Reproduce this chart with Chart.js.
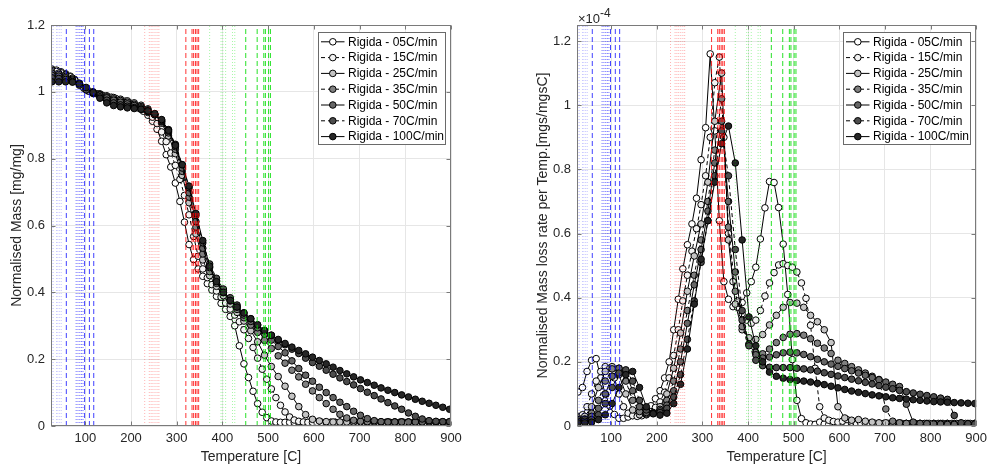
<!DOCTYPE html>
<html>
<head>
<meta charset="utf-8">
<title>Rigida - TGA / DTG</title>
<script src="https://cdn.jsdelivr.net/npm/chart.js@4.4.1/dist/chart.umd.min.js"></script>
<style>
  html, body { margin: 0; padding: 0; background: #fff; }
  #wrap { position: relative; width: 992px; height: 466px; }
  canvas { position: absolute; top: 0; }
  #mass { left: 0; }
  #dtg { left: 496px; }
</style>
</head>
<body>
<div id="wrap">
  <canvas id="mass" width="496" height="466"></canvas>
  <canvas id="dtg" width="496" height="466"></canvas>
</div>
<script>
const FONT = "'Liberation Sans', Arial, Helvetica, sans-serif";
const INK = '#262626';
const FRAME = '#7a7a7a';
const GRID = '#e6e6e6';

const rateLabels = ['Rigida - 05C/min', 'Rigida - 15C/min', 'Rigida - 25C/min', 'Rigida - 35C/min',
  'Rigida - 50C/min', 'Rigida - 70C/min', 'Rigida - 100C/min'];
const faceColors = ['#ffffff', '#f2f2f2', '#c4c4c4', '#808080', '#666666', '#4d4d4d', '#262626'];
const dashed = [false, true, false, true, false, true, false];

// sampling temperatures: 05 and 15 C/min use the fine grid, the rest the coarse one
const tFine = [27, 37, 47, 57, 67, 77, 87, 97,
  107, 117, 127, 137, 147, 157, 167, 177, 187, 197,
  207, 217, 227, 237, 247, 257, 267, 277, 287, 297,
  307, 317, 327, 337, 347, 357, 367, 377, 387, 397,
  407, 417, 427, 437, 447, 457, 467, 477, 487, 497,
  507, 517, 527, 537, 547, 557, 567, 577, 587, 597,
  607, 617, 627, 637, 647, 657, 667, 677, 687, 697,
  707, 717, 727, 737, 747, 757, 767, 777, 787, 797,
  807, 817, 827, 837, 847, 857, 867, 877, 887, 897];
const tCoarse = [27, 42, 57, 72, 87, 102, 117, 132, 147, 162,
  177, 192, 207, 222, 237, 252, 267, 282, 297, 312,
  327, 342, 357, 372, 387, 402, 417, 432, 447, 462,
  477, 492, 507, 522, 537, 552, 567, 582, 597, 612,
  627, 642, 657, 672, 687, 702, 717, 732, 747, 762,
  777, 792, 807, 822, 837, 852, 867, 882, 897];

// normalised mass [mg/mg]
const mass05 = [1.068, 1.065, 1.060, 1.054, 1.047, 1.037, 1.024, 1.011,
  1.002, 0.997, 0.993, 0.989, 0.986, 0.982, 0.978, 0.974, 0.969, 0.964,
  0.958, 0.951, 0.942, 0.930, 0.912, 0.888, 0.852, 0.812, 0.775, 0.727,
  0.672, 0.610, 0.543, 0.498, 0.470, 0.448, 0.426, 0.407, 0.388, 0.367,
  0.349, 0.328, 0.300, 0.240, 0.186, 0.145, 0.104, 0.067, 0.041, 0.025,
  0.015, 0.012, 0.011, 0.011, 0.011, 0.011, 0.011, 0.011, 0.011, 0.011,
  0.011, 0.011, 0.011, 0.011, 0.011, 0.011, 0.011, 0.011, 0.011, 0.011,
  0.010, 0.010, 0.010, 0.010, 0.010, 0.010, 0.010, 0.010, 0.010, 0.010,
  0.010, 0.010, 0.010, 0.010, 0.010, 0.010, 0.010, 0.010, 0.010, 0.010];
const mass15 = [1.064, 1.061, 1.057, 1.052, 1.045, 1.035, 1.023, 1.011,
  1.003, 0.998, 0.994, 0.990, 0.987, 0.984, 0.980, 0.976, 0.972, 0.967,
  0.962, 0.956, 0.948, 0.938, 0.924, 0.905, 0.880, 0.851, 0.817, 0.780,
  0.738, 0.690, 0.632, 0.567, 0.508, 0.470, 0.444, 0.423, 0.404, 0.386,
  0.368, 0.350, 0.332, 0.312, 0.288, 0.262, 0.235, 0.203, 0.170, 0.140,
  0.111, 0.085, 0.062, 0.042, 0.027, 0.018, 0.014, 0.012, 0.011, 0.011,
  0.011, 0.011, 0.011, 0.011, 0.011, 0.011, 0.011, 0.011, 0.011, 0.011,
  0.011, 0.011, 0.011, 0.011, 0.011, 0.011, 0.011, 0.011, 0.011, 0.011,
  0.010, 0.010, 0.010, 0.010, 0.010, 0.010, 0.010, 0.010, 0.010, 0.010];
const mass25 = [1.060, 1.056, 1.050, 1.041, 1.026, 1.010, 1.000, 0.994, 0.988, 0.983,
  0.978, 0.973, 0.967, 0.960, 0.949, 0.932, 0.906, 0.868, 0.815, 0.750,
  0.668, 0.575, 0.497, 0.450, 0.418, 0.390, 0.365, 0.340, 0.314, 0.285,
  0.252, 0.212, 0.178, 0.148, 0.119, 0.089, 0.058, 0.034, 0.020, 0.015,
  0.013, 0.012, 0.012, 0.012, 0.012, 0.012, 0.012, 0.012, 0.012, 0.012,
  0.012, 0.012, 0.012, 0.012, 0.012, 0.012, 0.012, 0.012, 0.012];
const mass35 = [1.056, 1.052, 1.046, 1.038, 1.024, 1.008, 0.999, 0.992, 0.985, 0.979,
  0.974, 0.969, 0.963, 0.956, 0.946, 0.932, 0.910, 0.877, 0.828, 0.762,
  0.685, 0.595, 0.515, 0.462, 0.427, 0.399, 0.374, 0.349, 0.324, 0.302,
  0.280, 0.256, 0.232, 0.210, 0.188, 0.167, 0.147, 0.125, 0.105, 0.085,
  0.067, 0.050, 0.035, 0.024, 0.017, 0.014, 0.013, 0.012, 0.012, 0.012,
  0.012, 0.012, 0.012, 0.012, 0.012, 0.012, 0.012, 0.012, 0.012];
const mass50 = [1.050, 1.047, 1.042, 1.035, 1.022, 1.007, 0.998, 0.990, 0.982, 0.975,
  0.969, 0.964, 0.959, 0.952, 0.943, 0.931, 0.912, 0.882, 0.836, 0.772,
  0.698, 0.612, 0.532, 0.474, 0.435, 0.405, 0.380, 0.356, 0.332, 0.313,
  0.294, 0.275, 0.257, 0.238, 0.219, 0.195, 0.172, 0.152, 0.134, 0.116,
  0.100, 0.085, 0.071, 0.058, 0.044, 0.032, 0.022, 0.016, 0.013, 0.012,
  0.012, 0.012, 0.012, 0.012, 0.012, 0.012, 0.012, 0.012, 0.012];
const mass70 = [1.042, 1.040, 1.037, 1.031, 1.020, 1.006, 0.995, 0.985, 0.975, 0.967,
  0.961, 0.957, 0.953, 0.948, 0.941, 0.932, 0.915, 0.887, 0.843, 0.782,
  0.713, 0.630, 0.548, 0.485, 0.442, 0.410, 0.384, 0.362, 0.339, 0.321,
  0.302, 0.285, 0.271, 0.256, 0.243, 0.230, 0.217, 0.203, 0.190, 0.179,
  0.167, 0.155, 0.144, 0.133, 0.123, 0.112, 0.101, 0.091, 0.081, 0.070,
  0.060, 0.050, 0.039, 0.029, 0.021, 0.016, 0.014, 0.013, 0.013];
const mass100 = [1.030, 1.030, 1.030, 1.029, 1.024, 1.013, 0.998, 0.981, 0.967, 0.959,
  0.955, 0.952, 0.950, 0.948, 0.943, 0.935, 0.917, 0.885, 0.840, 0.782,
  0.718, 0.636, 0.555, 0.478, 0.432, 0.400, 0.376, 0.356, 0.338, 0.321,
  0.303, 0.286, 0.272, 0.259, 0.247, 0.236, 0.226, 0.216, 0.206, 0.196,
  0.186, 0.176, 0.166, 0.156, 0.147, 0.138, 0.130, 0.122, 0.114, 0.107,
  0.100, 0.093, 0.087, 0.080, 0.074, 0.068, 0.062, 0.056, 0.050];

// normalised mass loss rate per temperature, in units of 1e-4 mgs/mgsC
const dtg05 = [0.106, 0.120, 0.170, 0.205, 0.210, 0.150, 0.100, 0.062,
  0.036, 0.024, 0.024, 0.028, 0.033, 0.038, 0.044, 0.050, 0.063, 0.085,
  0.110, 0.150, 0.200, 0.300, 0.395, 0.490, 0.565, 0.630, 0.710, 0.830,
  0.930, 1.160, 0.920, 0.640, 0.450, 0.395, 0.372, 0.370, 0.385, 0.415,
  0.450, 0.495, 0.583, 0.680, 0.762, 0.759, 0.681, 0.567, 0.410, 0.207,
  0.080, 0.023, 0.010, 0.006, 0.005, 0.012, 0.006, 0.005, 0.005, 0.004,
  0.005, 0.004, 0.006, 0.005, 0.004, 0.005, 0.004, 0.004, 0.005, 0.004,
  0.004, 0.005, 0.004, 0.004, 0.004, 0.005, 0.004, 0.004, 0.004, 0.004,
  0.004, 0.004, 0.005, 0.004, 0.004, 0.004, 0.004, 0.004, 0.004, 0.004];
const dtg15 = [0.030, 0.035, 0.060, 0.100, 0.140, 0.170, 0.185, 0.180,
  0.150, 0.100, 0.060, 0.040, 0.032, 0.030, 0.032, 0.036, 0.045, 0.058,
  0.075, 0.105, 0.150, 0.220, 0.300, 0.390, 0.470, 0.545, 0.615, 0.690,
  0.780, 0.900, 1.070, 1.150, 0.900, 0.600, 0.450, 0.390, 0.350, 0.330,
  0.320, 0.330, 0.360, 0.405, 0.446, 0.478, 0.502, 0.506, 0.500, 0.495,
  0.480, 0.446, 0.398, 0.314, 0.180, 0.060, 0.025, 0.018, 0.014, 0.012,
  0.015, 0.020, 0.012, 0.010, 0.009, 0.008, 0.008, 0.009, 0.008, 0.008,
  0.008, 0.008, 0.008, 0.008, 0.008, 0.008, 0.008, 0.008, 0.008, 0.008,
  0.008, 0.008, 0.008, 0.008, 0.008, 0.008, 0.008, 0.008, 0.008, 0.008];
const dtg25 = [0.025, 0.030, 0.060, 0.120, 0.170, 0.185, 0.160, 0.100, 0.050, 0.035,
  0.035, 0.042, 0.060, 0.100, 0.180, 0.290, 0.420, 0.530, 0.630, 0.760,
  0.950, 1.100, 0.580, 0.380, 0.300, 0.275, 0.270, 0.285, 0.315, 0.345,
  0.370, 0.385, 0.383, 0.370, 0.345, 0.325, 0.300, 0.260, 0.060, 0.025,
  0.018, 0.020, 0.015, 0.012, 0.010, 0.010, 0.009, 0.009, 0.008, 0.008,
  0.008, 0.008, 0.008, 0.008, 0.008, 0.008, 0.008, 0.008, 0.008];
const dtg35 = [0.020, 0.022, 0.040, 0.080, 0.140, 0.178, 0.180, 0.140, 0.080, 0.045,
  0.038, 0.040, 0.052, 0.080, 0.140, 0.240, 0.360, 0.470, 0.580, 0.700,
  0.860, 1.020, 0.620, 0.420, 0.310, 0.255, 0.230, 0.225, 0.240, 0.260,
  0.276, 0.286, 0.288, 0.283, 0.272, 0.258, 0.243, 0.226, 0.205, 0.195,
  0.185, 0.175, 0.165, 0.155, 0.145, 0.053, 0.015, 0.010, 0.008, 0.007,
  0.006, 0.006, 0.006, 0.005, 0.005, 0.005, 0.005, 0.005, 0.005];
const dtg50 = [0.020, 0.020, 0.030, 0.055, 0.100, 0.155, 0.180, 0.165, 0.110, 0.060,
  0.042, 0.040, 0.047, 0.065, 0.110, 0.200, 0.320, 0.440, 0.550, 0.670,
  0.820, 0.950, 0.700, 0.480, 0.330, 0.255, 0.222, 0.212, 0.215, 0.222,
  0.228, 0.230, 0.228, 0.223, 0.216, 0.208, 0.200, 0.193, 0.186, 0.179,
  0.172, 0.165, 0.158, 0.151, 0.144, 0.137, 0.130, 0.123, 0.068, 0.012,
  0.008, 0.007, 0.006, 0.006, 0.005, 0.005, 0.005, 0.005, 0.005];
const dtg70 = [0.015, 0.015, 0.020, 0.035, 0.070, 0.120, 0.165, 0.175, 0.140, 0.080,
  0.050, 0.040, 0.042, 0.055, 0.090, 0.160, 0.270, 0.390, 0.510, 0.640,
  0.780, 0.920, 0.780, 0.550, 0.360, 0.250, 0.205, 0.188, 0.183, 0.182,
  0.182, 0.182, 0.180, 0.178, 0.175, 0.171, 0.166, 0.161, 0.156, 0.151,
  0.146, 0.141, 0.136, 0.131, 0.126, 0.121, 0.116, 0.111, 0.107, 0.103,
  0.099, 0.095, 0.091, 0.087, 0.083, 0.033, 0.010, 0.007, 0.006];
const dtg100 = [0.010, 0.010, 0.012, 0.020, 0.035, 0.070, 0.120, 0.160, 0.170, 0.120,
  0.060, 0.038, 0.034, 0.040, 0.070, 0.130, 0.240, 0.380, 0.520, 0.640,
  0.760, 0.880, 0.935, 0.820, 0.580, 0.340, 0.250, 0.200, 0.168, 0.155,
  0.149, 0.145, 0.142, 0.140, 0.137, 0.133, 0.129, 0.124, 0.119, 0.114,
  0.109, 0.105, 0.101, 0.097, 0.094, 0.091, 0.088, 0.086, 0.084, 0.082,
  0.080, 0.078, 0.076, 0.075, 0.074, 0.073, 0.072, 0.071, 0.070];

const xTicks = [100, 200, 300, 400, 500, 600, 700, 800, 900];
const massTicks = [0, 0.2, 0.4, 0.6, 0.8, 1, 1.2];
const dtgTicks = [0, 0.2, 0.4, 0.6, 0.8, 1, 1.2];

// stage markers (temperatures of the vertical guide lines)
const blueFaint = [27, 30, 37, 40, 44, 47.5];
const blueDotted = [80, 84, 88, 91.5, 95];
const blueDashed = [58.5, 98.5, 109, 118.5];
const redDotted = [230, 240, 244, 248, 252.5, 257, 261];
const redDashed = [320, 333.5, 337, 341, 344.5, 348];
const greenDotted = [372, 397, 401, 407, 422, 427];
const greenDashed = [451, 476, 490.5, 494, 501, 505];

function pts(temps, vals) {
  return vals.map((v, i) => ({ x: temps[i], y: v }));
}

function seriesSets(lists) {
  return lists.map((vals, k) => ({
    label: rateLabels[k],
    data: pts(k < 2 ? tFine : tCoarse, vals),
    borderColor: '#000',
    borderWidth: 1,
    borderDash: dashed[k] ? [4, 3] : [],
    pointRadius: 3.3,
    pointBorderWidth: 1,
    pointBorderColor: '#000',
    pointBackgroundColor: faceColors[k],
    tension: 0,
    order: 10 - k
  }));
}

function guideSets(temps, color, dash, yTop) {
  return temps.map(t => ({
    data: [{ x: t, y: 0 }, { x: t, y: yTop }],
    borderColor: color,
    borderWidth: 1,
    borderDash: dash,
    pointRadius: 0,
    order: 0
  }));
}

function allGuides(yTop) {
  return [
    ...guideSets(blueFaint, 'rgba(0,0,255,0.22)', [1, 2], yTop),
    ...guideSets(blueDotted, 'rgba(0,0,255,0.55)', [1, 2], yTop),
    ...guideSets(blueDashed, 'rgba(0,0,255,0.75)', [5, 3], yTop),
    ...guideSets(redDotted, 'rgba(255,0,0,0.3)', [1, 2], yTop),
    ...guideSets(redDashed, 'rgba(255,0,0,0.8)', [5, 3], yTop),
    ...guideSets(greenDotted, 'rgba(0,230,0,0.35)', [1, 2], yTop),
    ...guideSets(greenDashed, 'rgba(0,220,0,0.85)', [5, 3], yTop)
  ];
}

// axes box with inward tick marks
const framePlugin = {
  id: 'frame',
  afterDatasetsDraw(chart) {
    const { ctx, chartArea: a, scales } = chart;
    const L = Math.round(a.left) + 0.5, R = Math.round(a.right) - 0.5;
    const T = Math.round(a.top) + 0.5, B = Math.round(a.bottom) - 0.5;
    ctx.save();
    ctx.strokeStyle = FRAME;
    ctx.lineWidth = 1;
    ctx.strokeRect(L, T, R - L, B - T);
    ctx.beginPath();
    scales.x.ticks.forEach(t => {
      const px = Math.round(scales.x.getPixelForValue(t.value)) + 0.5;
      ctx.moveTo(px, B); ctx.lineTo(px, B - 4);
      ctx.moveTo(px, T); ctx.lineTo(px, T + 4);
    });
    scales.y.ticks.forEach(t => {
      const py = Math.round(scales.y.getPixelForValue(t.value)) + 0.5;
      ctx.moveTo(L, py); ctx.lineTo(L + 4, py);
      ctx.moveTo(R, py); ctx.lineTo(R - 4, py);
    });
    ctx.stroke();
    ctx.restore();
  }
};

// boxed legend in the top right corner of the plot area
const legendPlugin = {
  id: 'rateLegend',
  afterDraw(chart) {
    const { ctx, chartArea: a } = chart;
    const w = 127, h = 112, rowH = 15.8;
    const x0 = Math.round(a.right - 6.5 - w) + 0.5;
    const y0 = Math.round(a.top + 6.7) + 0.5;
    ctx.save();
    ctx.fillStyle = '#fff';
    ctx.fillRect(x0, y0, w, h);
    ctx.strokeStyle = '#6a6a6a';
    ctx.lineWidth = 1;
    ctx.strokeRect(x0, y0, w, h);
    ctx.font = `12px ${FONT}`;
    ctx.textBaseline = 'middle';
    rateLabels.forEach((label, k) => {
      const y = y0 + 9.3 + k * rowH;
      ctx.strokeStyle = '#000';
      ctx.setLineDash(dashed[k] ? [4, 3] : []);
      ctx.beginPath();
      ctx.moveTo(x0 + 2.5, y);
      ctx.lineTo(x0 + 26, y);
      ctx.stroke();
      ctx.setLineDash([]);
      ctx.beginPath();
      ctx.arc(x0 + 14.3, y, 3.3, 0, Math.PI * 2);
      ctx.fillStyle = faceColors[k];
      ctx.fill();
      ctx.stroke();
      ctx.fillStyle = '#000';
      ctx.fillText(label, x0 + 29.5, y + 0.5);
    });
    ctx.restore();
  }
};

// "x10^-4" multiplier above the rate axis
const exponentPlugin = {
  id: 'exponent',
  afterDraw(chart) {
    const { ctx, chartArea: a } = chart;
    ctx.save();
    ctx.fillStyle = INK;
    ctx.textBaseline = 'alphabetic';
    ctx.font = `13px ${FONT}`;
    ctx.fillText('\u00d710', a.left + 1, a.top - 2.5);
    const w = ctx.measureText('\u00d710').width;
    ctx.font = `12px ${FONT}`;
    ctx.fillText('-4', a.left + 1 + w, a.top - 8);
    ctx.restore();
  }
};

function makeScales(yTicks, yMax, yTitle, yWidth, titlePad) {
  return {
    x: {
      type: 'linear',
      min: 25,
      max: 900,
      afterBuildTicks: ax => { ax.ticks = xTicks.map(v => ({ value: v })); },
      afterFit: ax => { ax.height = 40; },
      grid: { color: GRID, drawTicks: false },
      border: { display: false },
      ticks: { color: INK, font: { family: FONT, size: 13 }, padding: 5, maxRotation: 0, autoSkip: false,
        callback: v => String(v) },
      title: { display: true, text: 'Temperature [C]', color: INK, font: { family: FONT, size: 14 },
        padding: { top: 0, bottom: 0 } }
    },
    y: {
      type: 'linear',
      min: 0,
      max: yMax,
      afterBuildTicks: ax => { ax.ticks = yTicks.map(v => ({ value: v })); },
      afterFit: ax => { ax.width = yWidth; },
      grid: { color: GRID, drawTicks: false },
      border: { display: false },
      ticks: { color: INK, font: { family: FONT, size: 13 }, padding: 6, autoSkip: false,
        callback: v => String(v) },
      title: { display: true, text: yTitle, color: INK, font: { family: FONT, size: 14 },
        padding: { top: titlePad, bottom: 0 } }
    }
  };
}

function makeChart(id, lists, yTicks, yMax, yTitle, yWidth, titlePad, padRight, extra) {
  return new Chart(document.getElementById(id), {
    type: 'line',
    data: { datasets: [...allGuides(yMax), ...seriesSets(lists)] },
    options: {
      responsive: false,
      devicePixelRatio: 1,
      animation: false,
      events: [],
      layout: { padding: { left: 0, right: padRight, top: 25, bottom: 0 } },
      plugins: { legend: { display: false }, tooltip: { enabled: false } },
      scales: makeScales(yTicks, yMax, yTitle, yWidth, titlePad)
    },
    plugins: [framePlugin, legendPlugin, ...extra]
  });
}

makeChart('mass', [mass05, mass15, mass25, mass35, mass50, mass70, mass100],
  massTicks, 1.2, 'Normalised Mass [mg/mg]', 51, 8.6, 45, []);
makeChart('dtg', [dtg05, dtg15, dtg25, dtg35, dtg50, dtg70, dtg100],
  dtgTicks, 1.25, 'Normalised Mass loss rate per Temp.[mgs/mgsC]', 81, 38.6, 14, [exponentPlugin]);
</script>
</body>
</html>
